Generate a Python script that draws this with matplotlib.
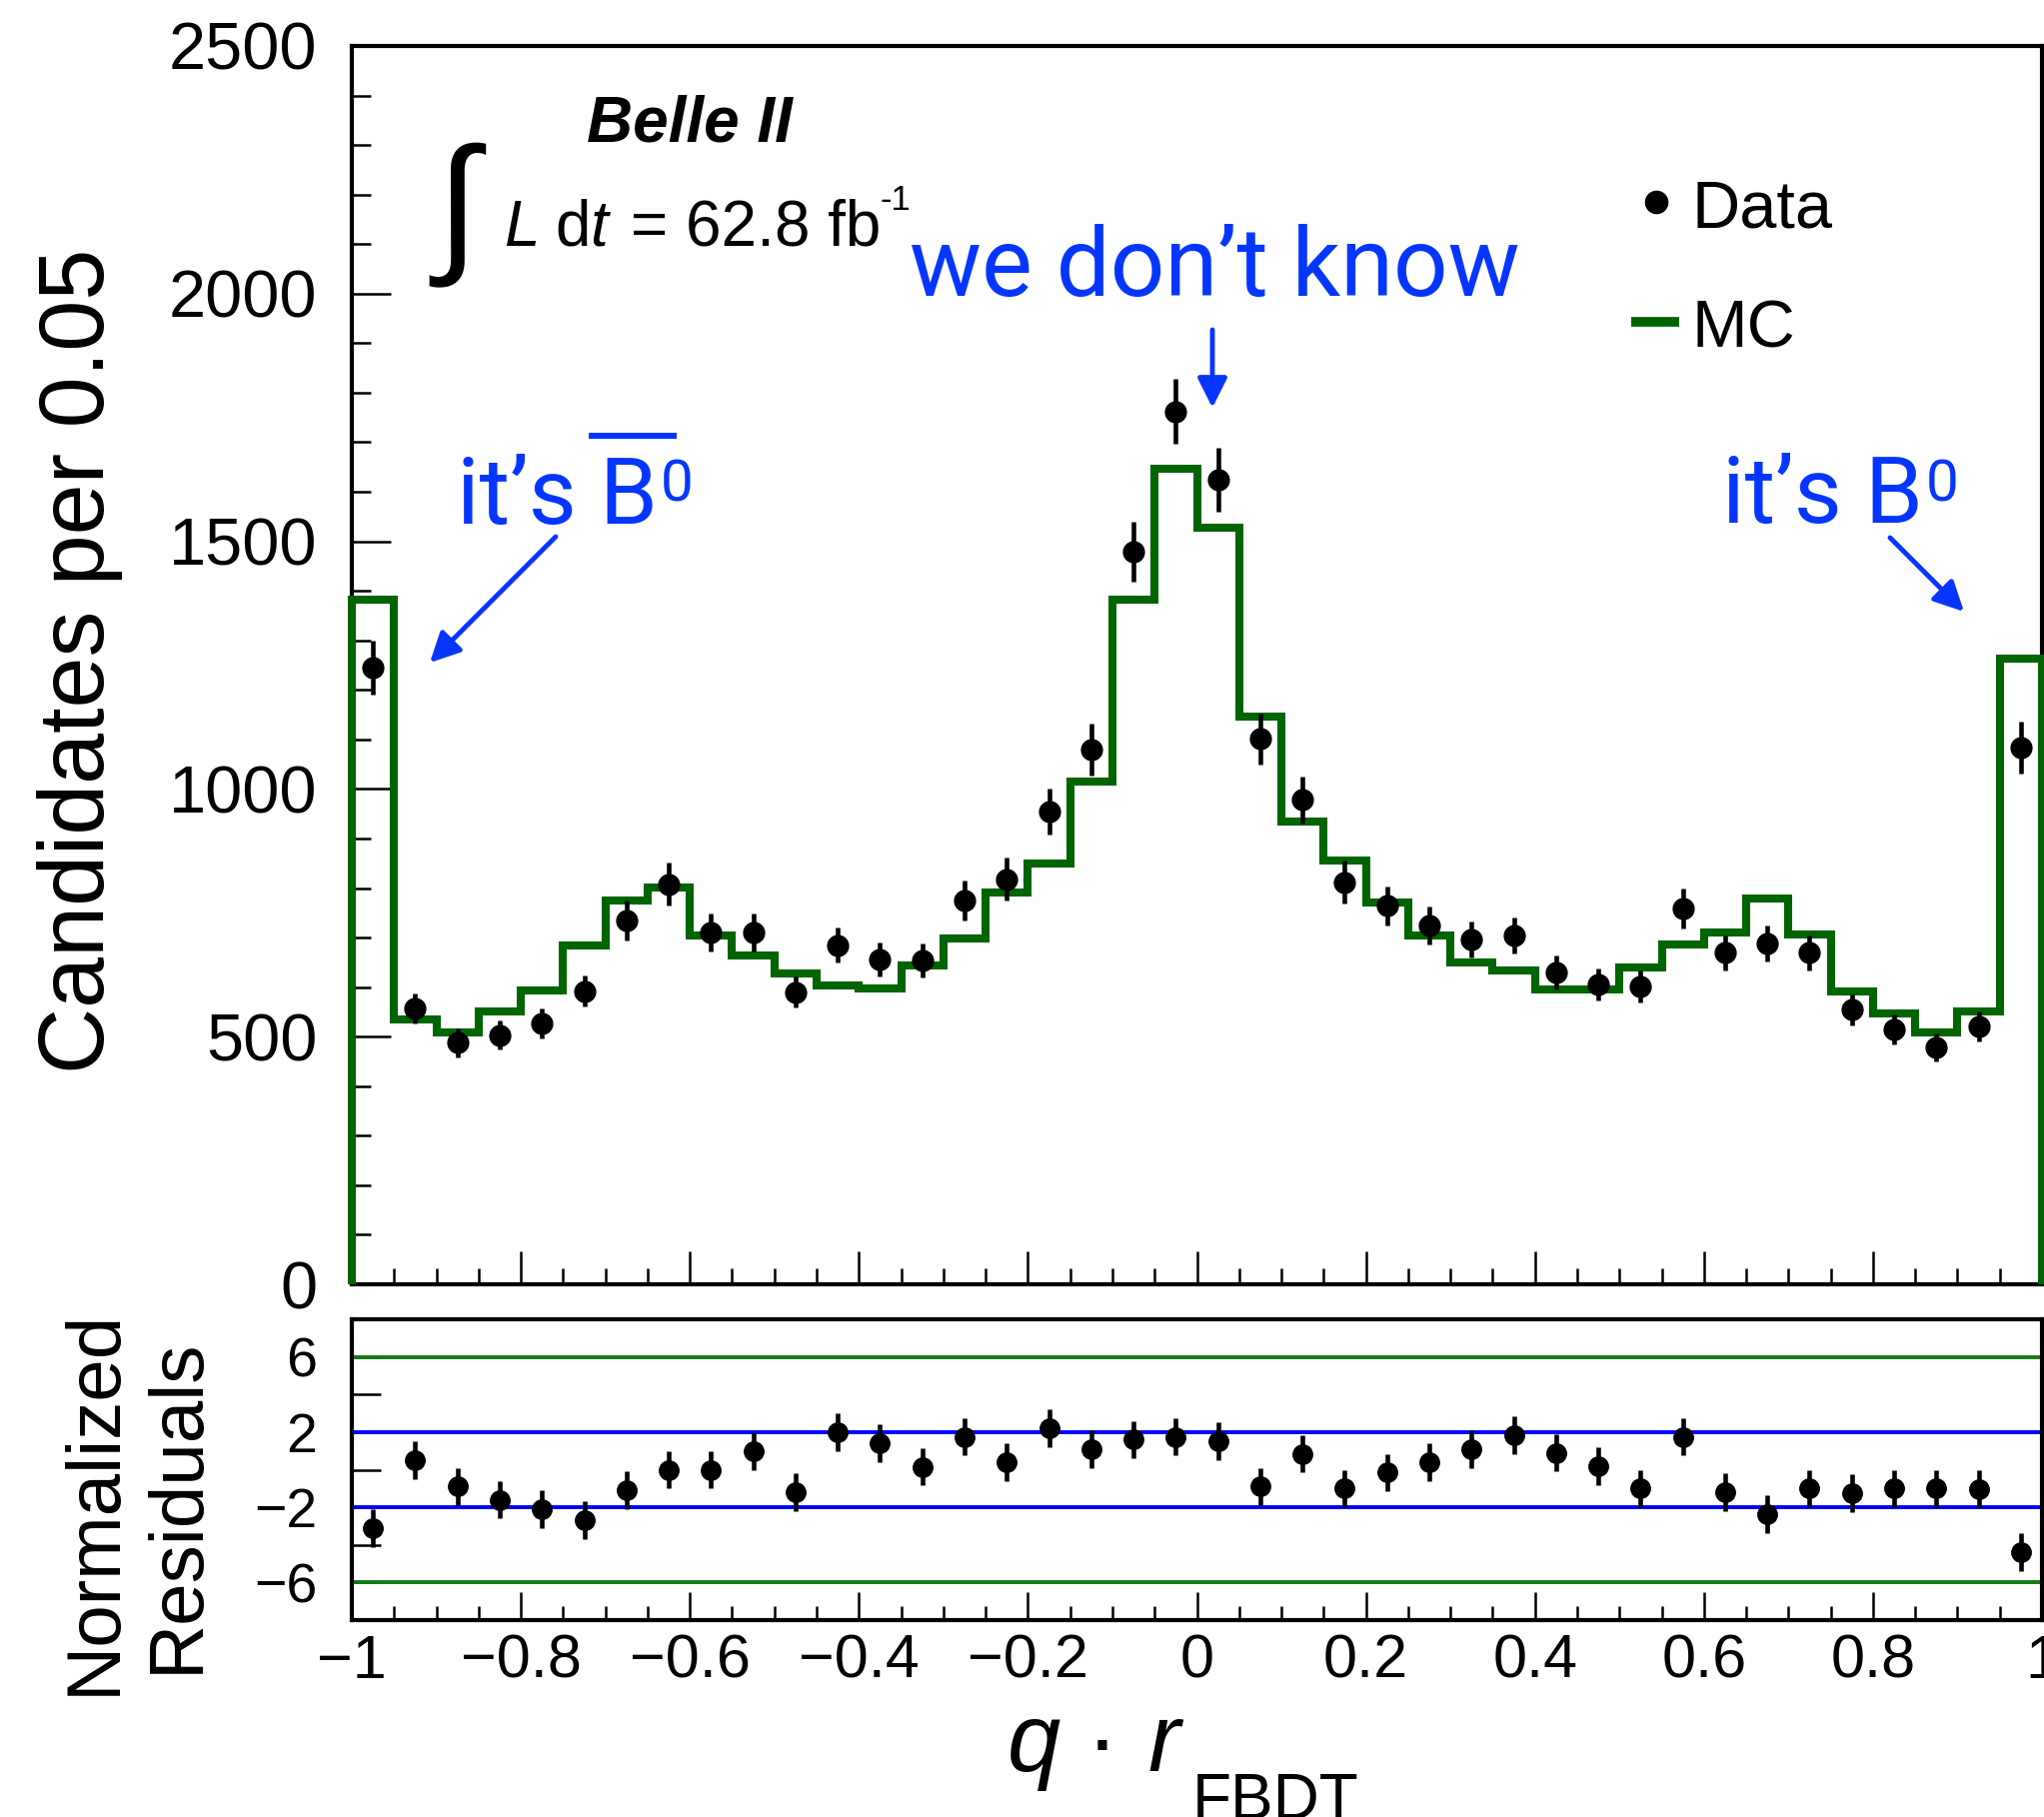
import matplotlib
matplotlib.use("Agg")
import matplotlib.pyplot as plt
from matplotlib.lines import Line2D
from matplotlib.ticker import MultipleLocator, FixedLocator
import numpy as np

# canvas size in pixels (dpi 100)
W, H = 2045, 1818

# q*r bins, width 0.05
edges = np.linspace(-1.0, 1.0, 41)

mc_counts = [1382, 535, 509, 550, 593, 684, 775, 802, 704, 664,
             627, 604, 598, 643, 698, 791, 849, 1015, 1382, 1646,
             1528, 1146, 935, 855, 771, 705, 649, 633, 596, 596,
             640, 686, 711, 778, 706, 592, 546, 509, 551, 1263]

data_counts = [1245, 557, 488, 503, 526, 592, 735, 808, 710, 710,
               590, 685, 656, 654, 775, 818, 954, 1079, 1479, 1762,
               1624, 1101, 978, 812, 764, 725, 696, 704, 630, 605,
               602, 759, 669, 688, 669, 554, 515, 478, 520, 1084]

data_err = [55, 30, 29, 29, 30, 32, 40, 44, 38, 38,
            32, 35, 34, 34, 40, 43, 46, 52, 61, 66,
            65, 52, 47, 43, 40, 38, 36, 37, 34, 32,
            32, 40, 35, 36, 35, 31, 30, 29, 30, 52]

residuals = [-3.1, 0.5, -0.9, -1.6, -2.1, -2.7, -1.1, 0.0, 0.0, 1.0,
             -1.2, 2.0, 1.4, 0.15, 1.75, 0.4, 2.2, 1.1, 1.6, 1.75,
             1.5, -0.9, 0.85, -1.0, -0.15, 0.4, 1.1, 1.85, 0.9, 0.2,
             -1.0, 1.75, -1.2, -2.35, -1.0, -1.25, -1.0, -1.0, -1.05, -4.4]
res_err = 1.0

x_ticks = [-1, -0.8, -0.6, -0.4, -0.2, 0, 0.2, 0.4, 0.6, 0.8, 1]
x_ticklabels = ['\u22121', '\u22120.8', '\u22120.6', '\u22120.4', '\u22120.2',
                '0', '0.2', '0.4', '0.6', '0.8', '1']
res_ticks = [-6, -4, -2, 0, 2, 4, 6]
res_ticklabels = ['\u22126', '', '\u22122', '', '2', '', '6']

green = '#006400'
line_green = '#157a15'
blue = '#0536ff'
ROOTFONT = 'Liberation Sans'
NOTEFONT = 'Roboto'

plt.rcParams['font.family'] = [ROOTFONT, 'DejaVu Sans']
plt.rcParams['axes.linewidth'] = 3.0


def fx(x):
    return x / W


def fy(y):
    return 1 - y / H


centers = (edges[:-1] + edges[1:]) / 2

fig = plt.figure(figsize=(W / 100, H / 100), dpi=100)
ax = fig.add_axes([fx(352), fy(1285), (2043 - 352) / W, (1285 - 46) / H])
rax = fig.add_axes([fx(352), fy(1621), (2043 - 352) / W, (1621 - 1320) / H])

# main panel
st = ax.stairs(mc_counts, edges, baseline=0, color=green, lw=5.8, zorder=3, clip_on=False)
st.set_joinstyle('miter')
ax.errorbar(centers, data_counts, yerr=data_err, fmt='o', color='k', ms=15,
            elinewidth=3.3, capsize=0, zorder=4)
ax.set_xlim(-1, 1)
ax.set_ylim(0, 2500)
ax.xaxis.set_major_locator(FixedLocator(x_ticks))
ax.xaxis.set_minor_locator(MultipleLocator(0.05))
ax.yaxis.set_major_locator(MultipleLocator(500))
ax.yaxis.set_minor_locator(MultipleLocator(100))
ax.tick_params(which='both', direction='in', top=False, right=False, width=1.8)
ax.tick_params(axis='x', which='major', length=23.5, labelbottom=False)
ax.tick_params(axis='x', which='minor', length=11.5)
ax.tick_params(axis='y', which='major', length=28, labelsize=48, pad=25)
ax.tick_params(axis='y', which='minor', length=14)

# residual panel
rax.axhline(6, color=line_green, lw=2.8, zorder=2)
rax.axhline(-6, color=line_green, lw=2.8, zorder=2)
rax.axhline(2, color='#0000ff', lw=2.8, zorder=2)
rax.axhline(-2, color='#0000ff', lw=2.8, zorder=2)
rax.errorbar(centers, residuals, yerr=res_err, fmt='o', color='k', ms=14,
             elinewidth=3.3, capsize=0, zorder=4)
rax.set_xlim(-1, 1)
rax.set_ylim(-8, 8)
rax.xaxis.set_major_locator(FixedLocator(x_ticks))
rax.xaxis.set_minor_locator(MultipleLocator(0.05))
rax.set_xticklabels(x_ticklabels)
rax.set_yticks(res_ticks)
rax.set_yticklabels(res_ticklabels)
rax.tick_params(which='both', direction='in', top=False, right=False, width=1.8)
rax.tick_params(axis='x', which='major', length=20, labelsize=44, pad=10)
rax.tick_params(axis='x', which='minor', length=10)
rax.tick_params(axis='y', which='major', length=21, labelsize=40, pad=25)

# axis titles
fig.text(fx(80), fy(661), 'Candidates per 0.05', rotation=90, fontsize=66,
         ha='center', va='center')
fig.text(fx(95), fy(1503), 'Normalized', rotation=90, fontsize=55, ha='center', va='center')
fig.text(fx(178), fy(1506), 'Residuals', rotation=90, fontsize=55, ha='center', va='center')

fig.text(fx(1008), fy(1772), 'q', fontsize=69, style='italic', va='baseline')
fig.text(fx(1103), fy(1772), '\u00b7', fontsize=69, ha='center', va='baseline')
fig.text(fx(1148), fy(1772), 'r', fontsize=69, style='italic', va='baseline')
fig.text(fx(1193), fy(1773), 'FBDT', fontsize=46, va='top')

# Belle II label
fig.text(fx(587), fy(141), 'Belle II', fontsize=46, weight='bold', style='italic', va='baseline')
fig.text(fx(457), fy(215), '\u222b', fontsize=110, ha='center', va='center',
         family=[ROOTFONT, 'DejaVu Sans'])
fig.text(fx(504), fy(246), 'L', fontsize=46, style='italic', va='baseline')
fig.text(fx(555), fy(246), 'd', fontsize=46, va='baseline')
fig.text(fx(590), fy(246), 't', fontsize=46, style='italic', va='baseline')
fig.text(fx(631), fy(246), '= 62.8 fb', fontsize=46, va='baseline')
fig.text(fx(880), fy(210), '-1', fontsize=25, va='baseline')

# legend
fig.add_artist(Line2D([fx(1657)], [fy(202)], marker='o', ms=16, color='k',
                      transform=fig.transFigure))
fig.text(fx(1693), fy(227), 'Data', fontsize=48, va='baseline')
fig.add_artist(Line2D([fx(1632), fx(1680)], [fy(322), fy(322)], lw=7, color=green,
                      solid_capstyle='butt', transform=fig.transFigure))
fig.text(fx(1693), fy(347), 'MC', fontsize=48, va='baseline')

# blue notes
arrow_kw = dict(arrowstyle='-|>,head_length=0.6,head_width=0.3', mutation_scale=30,
                lw=3.5, color=blue, shrinkA=0, shrinkB=0)

fig.text(fx(910), fy(296), 'we don\u2019t know', fontsize=69, family=NOTEFONT,
         color=blue, va='baseline')
ax.annotate('', xy=(1213, H - 408), xytext=(1213, H - 330), xycoords='figure pixels',
            textcoords='figure pixels', arrowprops=arrow_kw)

renderer = fig.canvas.get_renderer()
b_probe = fig.text(0, 0, 'B', fontsize=67, family=NOTEFONT)
b_width = b_probe.get_window_extent(renderer).width
b_probe.remove()


def b_zero(x_left, baseline, bar=False):
    t = fig.text(fx(x_left), fy(baseline), 'it\u2019s B', fontsize=67, family=NOTEFONT,
                 color=blue, va='baseline')
    bb = t.get_window_extent(renderer)
    z = fig.text(bb.x1 / W + 3 / W, fy(baseline - 22), '0', fontsize=42, family=NOTEFONT,
                 color=blue, va='baseline')
    if bar:
        zb = z.get_window_extent(renderer)
        fig.add_artist(Line2D([(bb.x1 - b_width - 8) / W, (zb.x0 + 0.4 * zb.width) / W],
                              [fy(436), fy(436)], lw=4.3, color=blue,
                              transform=fig.transFigure))


b_zero(457, 524, bar=True)
ax.annotate('', xy=(430, H - 663), xytext=(556, H - 537), xycoords='figure pixels',
            textcoords='figure pixels', arrowprops=arrow_kw)

b_zero(1723, 523)
ax.annotate('', xy=(1965, H - 612), xytext=(1891, H - 538), xycoords='figure pixels',
            textcoords='figure pixels', arrowprops=arrow_kw)

fig.savefig('out.png', dpi=100)
